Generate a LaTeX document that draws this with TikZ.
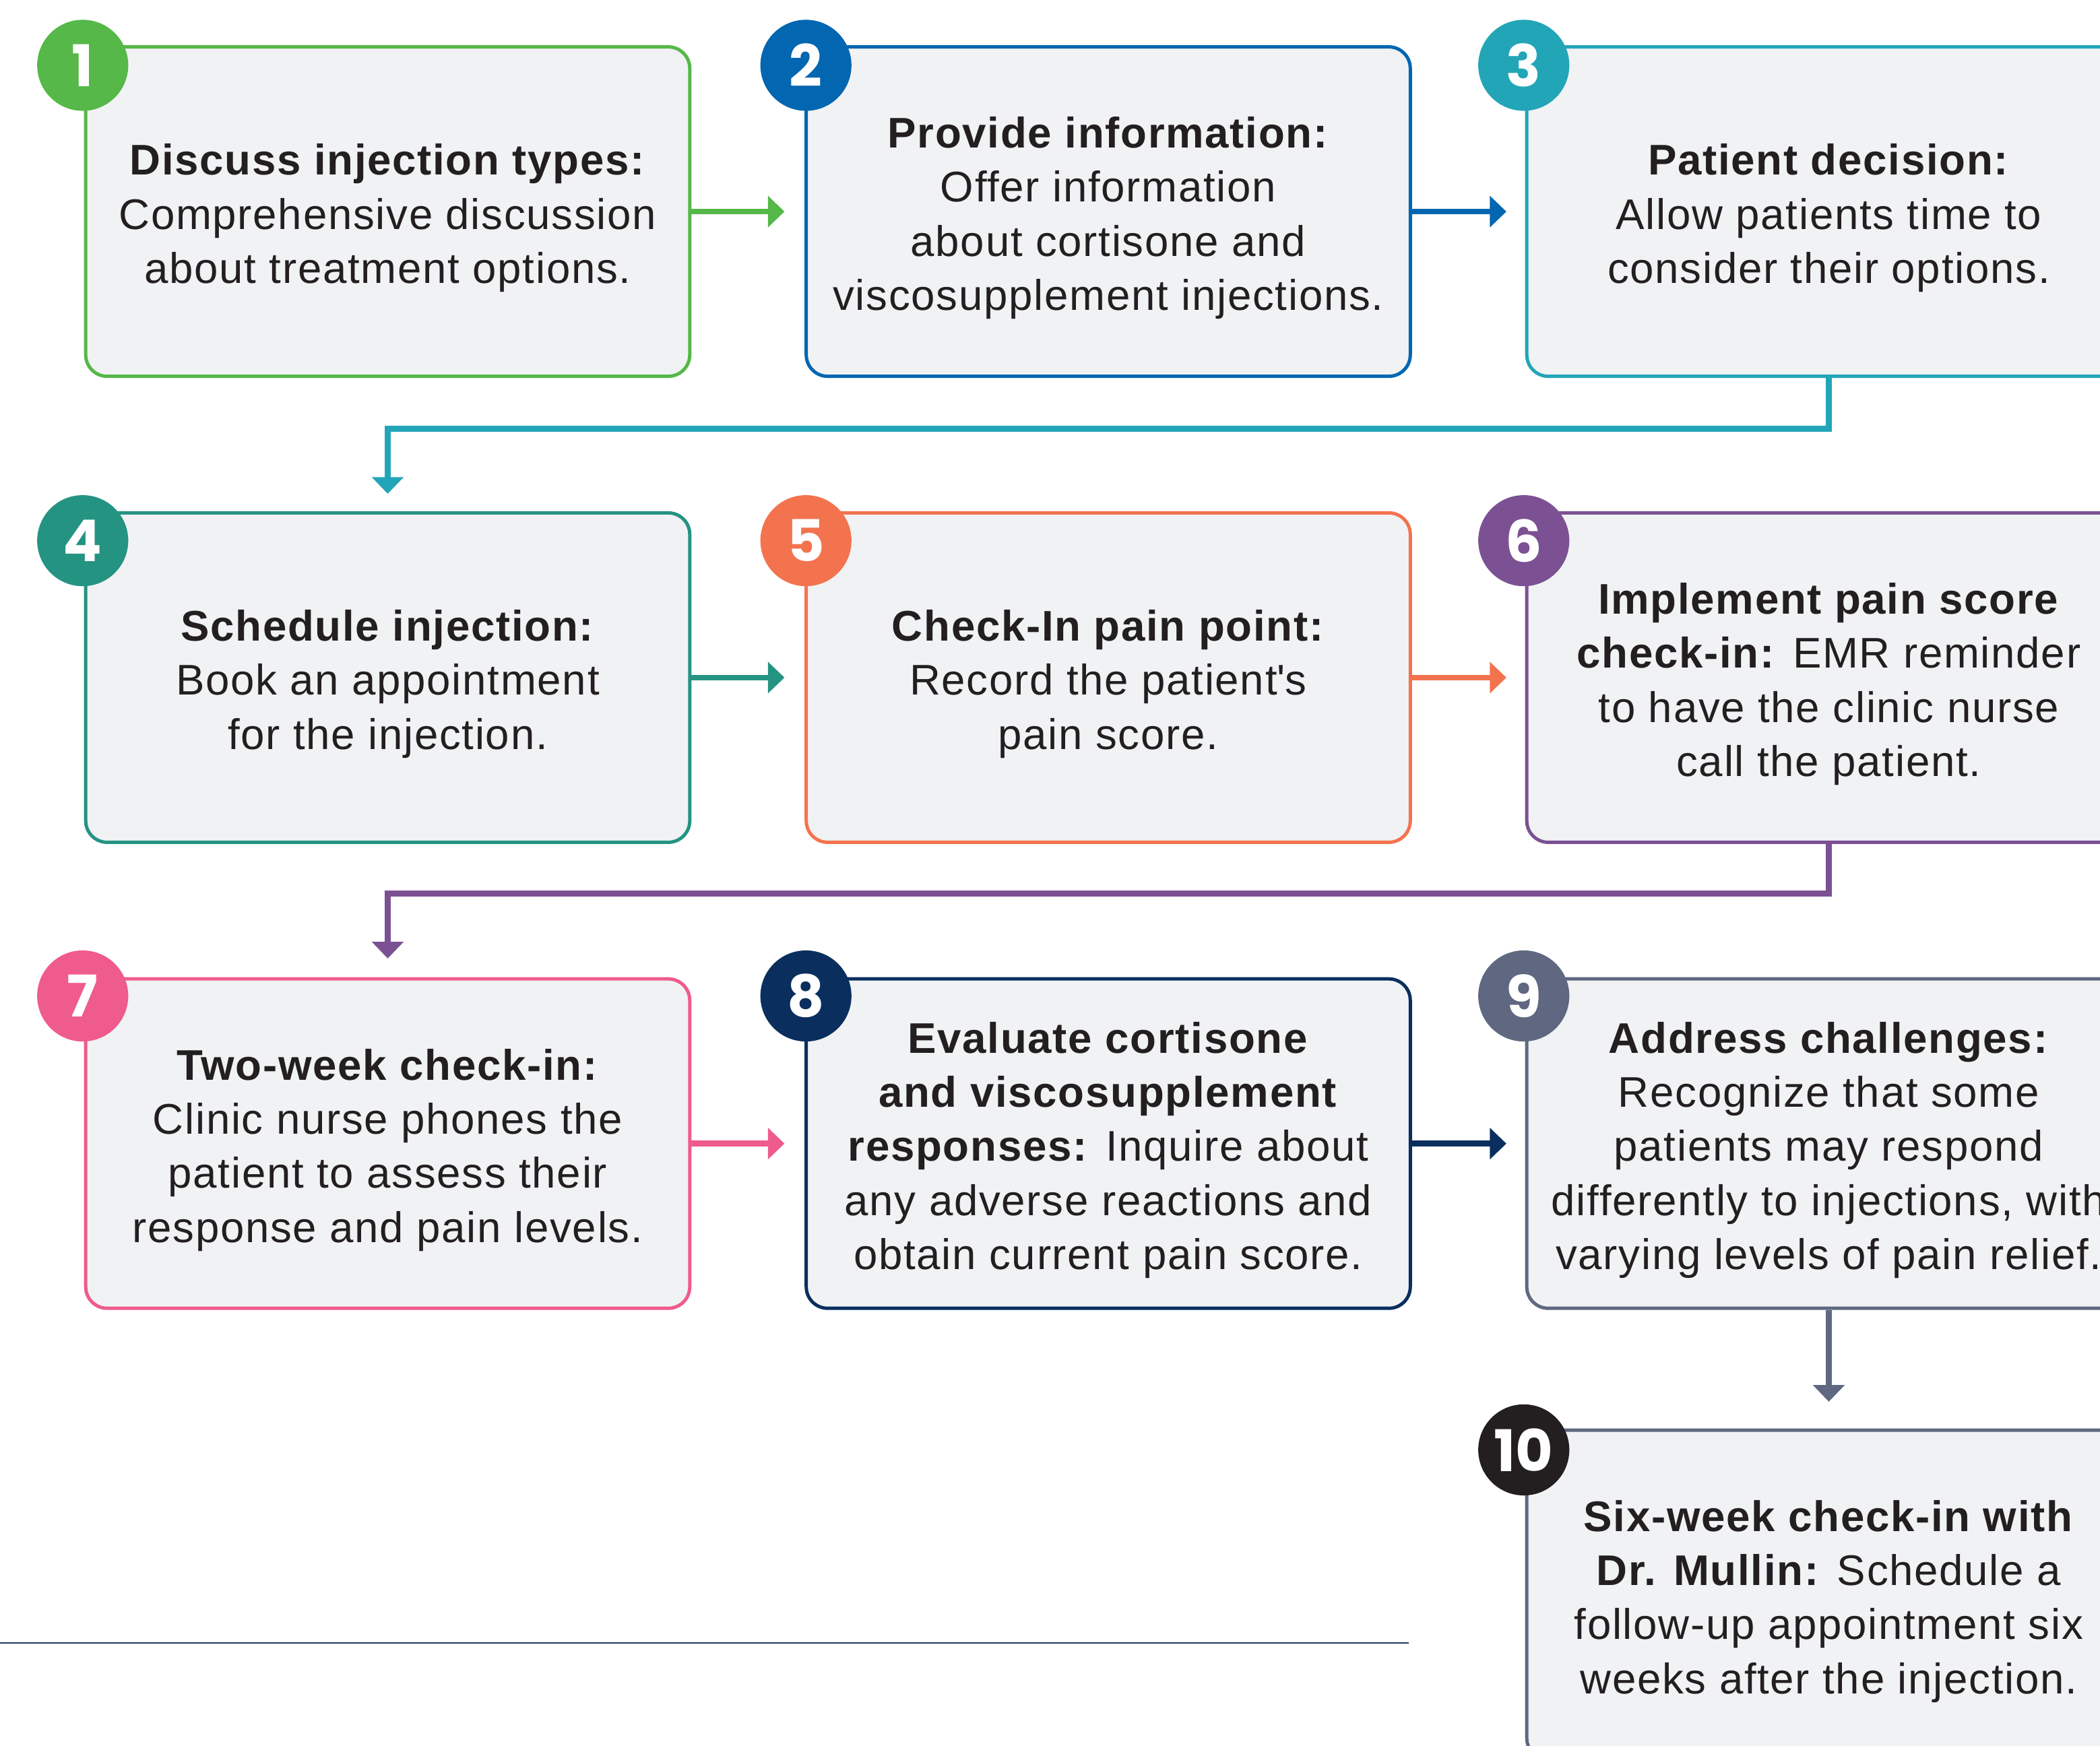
\documentclass[tikz,border=0pt]{standalone}
\usepackage{fontspec}
\setmainfont{Liberation Sans}[LetterSpace=2.7]
\newfontfamily\badgefont{Poppins}
\usetikzlibrary{arrows.meta,calc}
\definecolor{cA}{HTML}{55B848}
\definecolor{cB}{HTML}{0366B1}
\definecolor{cC}{HTML}{23A5B8}
\definecolor{cD}{HTML}{259382}
\definecolor{cE}{HTML}{F3734F}
\definecolor{cF}{HTML}{7C5193}
\definecolor{cG}{HTML}{EF5B8C}
\definecolor{cH}{HTML}{0A2F5E}
\definecolor{cI}{HTML}{5F6880}
\definecolor{cJ}{HTML}{231F20}
\definecolor{boxfill}{HTML}{F1F2F4}
\definecolor{txt}{HTML}{231F20}
\definecolor{rule}{HTML}{1B3A66}
\newcommand\firstln{\rule{0pt}{16.4pt}}
\begin{document}
\begin{tikzpicture}[x=0.5pt,y=-0.5pt,
  stepbox/.style={draw=#1, line width=1.25pt, fill=boxfill, rounded corners=8pt,
    minimum width=225.5pt, minimum height=123pt, inner sep=0pt, align=center,
    text=txt, font=\fontsize{16}{20.2}\selectfont},
  badge/.style={circle, fill=#1, minimum size=34pt, inner sep=0pt, text=white,
    font=\badgefont\bfseries\fontsize{21.5}{21.5}\selectfont},
  arr/.style={draw=#1, line width=2.2pt, -{Triangle[length=6.2pt,width=11.5pt]}},
  conn/.style={draw=#1, line width=2.2pt}
]
\useasboundingbox (0,0) rectangle (1568,1303.4);
\clip (0,0) rectangle (1568,1303.4);

% boxes
\node[stepbox=cA] (b1) at (289.5,158) {\firstln\textbf{Discuss injection types:}\\Comprehensive discussion\\about treatment options.};
\node[stepbox=cB] (b2) at (827.5,158) {\firstln\textbf{Provide information:}\\Offer information\\about cortisone and\\viscosupplement injections.};
\node[stepbox=cC] (b3) at (1365.5,158) {\firstln\textbf{Patient decision:}\\Allow patients time to\\consider their options.};
\node[stepbox=cD] (b4) at (289.5,506) {\firstln\textbf{Schedule injection:}\\Book an appointment\\for the injection.};
\node[stepbox=cE] (b5) at (827.5,506) {\firstln\textbf{Check-In pain point:}\\Record the patient\textquotesingle s\\pain score.};
\node[stepbox=cF] (b6) at (1365.5,506) {\firstln\textbf{Implement pain score}\\\textbf{check-in:} EMR reminder\\to have the clinic nurse\\call the patient.};
\node[stepbox=cG] (b7) at (289.5,854) {\firstln\textbf{Two-week check-in:}\\Clinic nurse phones the\\patient to assess their\\response and pain levels.};
\node[stepbox=cH] (b8) at (827.5,854) {\firstln\textbf{Evaluate cortisone}\\\textbf{and viscosupplement}\\\textbf{responses:} Inquire about\\any adverse reactions and\\obtain current pain score.};
\node[stepbox=cI] (b9) at (1365.5,854) {\firstln\textbf{Address challenges:}\\Recognize that some\\patients may respond\\differently to injections, with\\varying levels of pain relief.};
\node[stepbox=cI] (b10) at (1365.5,1191) {\firstln\textbf{Six-week check-in with}\\\textbf{Dr. Mullin:} Schedule a\\follow-up appointment six\\weeks after the injection.};

% badges
\node[badge=cA] (n1) at ($(b1.north west)+(-1,15)$) {1};
\node[badge=cB] (n2) at ($(b2.north west)+(1,15)$) {2};
\node[badge=cC] (n3) at ($(b3.north west)+(-1,15)$) {3};
\node[badge=cD] (n4) at ($(b4.north west)+(-1,22)$) {4};
\node[badge=cE] (n5) at ($(b5.north west)+(1,22)$) {5};
\node[badge=cF] (n6) at ($(b6.north west)+(-1,22)$) {6};
\node[badge=cG] (n7) at ($(b7.north west)+(-1,14)$) {7};
\node[badge=cH] (n8) at ($(b8.north west)+(1,14)$) {8};
\node[badge=cI] (n9) at ($(b9.north west)+(-1,14)$) {9};
\node[badge=cJ] (n10) at ($(b10.north west)+(-1,16)$) {10};

% horizontal arrows
\draw[arr=cA] (b1.east) -- ($(b2.west)+(-15,0)$);
\draw[arr=cB] (b2.east) -- ($(b3.west)+(-14,0)$);
\draw[arr=cD] (b4.east) -- ($(b5.west)+(-15,0)$);
\draw[arr=cE] (b5.east) -- ($(b6.west)+(-14,0)$);
\draw[arr=cG] (b7.east) -- ($(b8.west)+(-15,0)$);
\draw[arr=cH] (b8.east) -- ($(b9.west)+(-14,0)$);

% row-change connectors
\coordinate (k3) at ($(b3.south)+(0,38)$);
\draw[arr=cC] (b3.south) -- (k3) -| ($(b4.north)+(0,-13)$);
\coordinate (k6) at ($(b6.south)+(0,37)$);
\draw[arr=cF] (b6.south) -- (k6) -| ($(b7.north)+(0,-14)$);
\draw[arr=cI] (b9.south) -- ($(b10.north)+(0,-20)$);

% bottom rule
\coordinate (r0) at (0,1227);
\coordinate (r1) at (1052,1227);
\draw[rule, line width=0.6pt] (r0) -- (r1);
\end{tikzpicture}
\end{document}
